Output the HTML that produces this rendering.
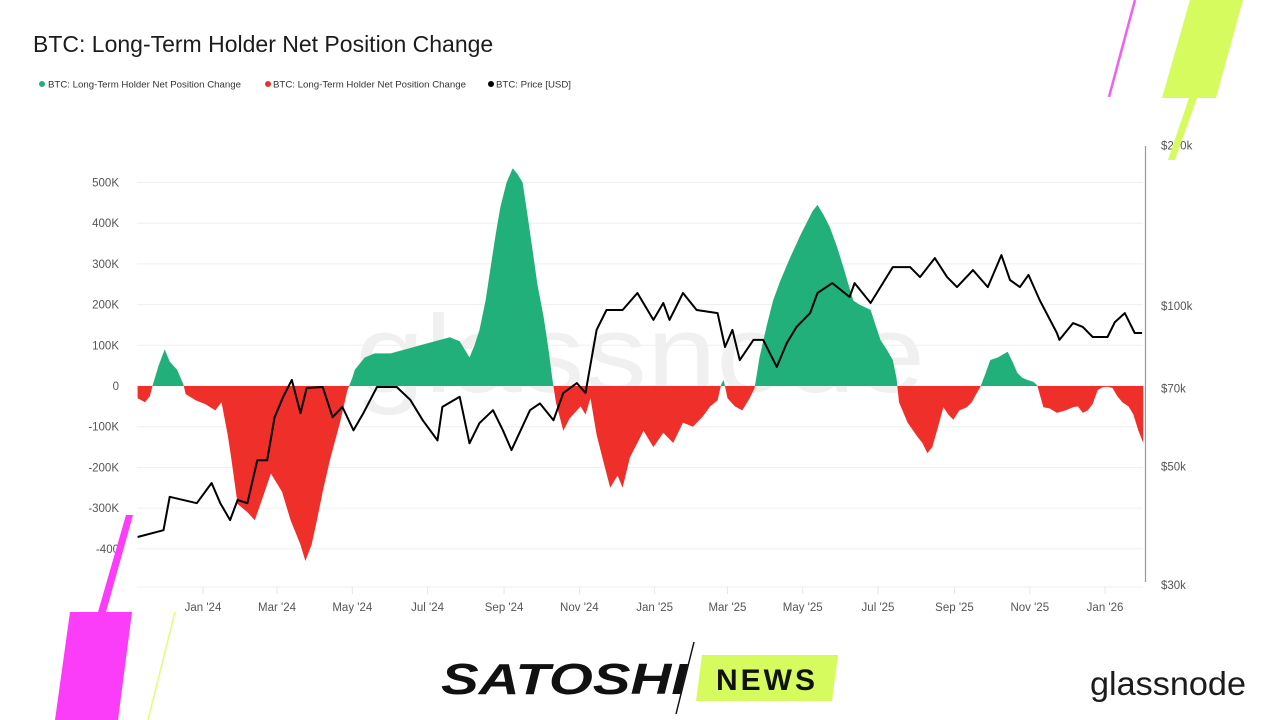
<!DOCTYPE html>
<html><head><meta charset="utf-8">
<style>
html,body{margin:0;padding:0;background:#fff;}
body{width:1280px;height:720px;overflow:hidden;position:relative;font-family:"Liberation Sans",sans-serif;}
svg{position:absolute;left:0;top:0;}
</style></head>
<body>
<svg id="chart" width="1280" height="720" viewBox="0 0 1280 720">
  <text x="355" y="392" font-size="110" fill="#f0f0f0" textLength="570" lengthAdjust="spacingAndGlyphs" font-family="Liberation Sans, sans-serif">glassnode</text>
  <g id="grid"></g>
  <g id="bars"></g>
  <g id="price"></g>
  <g id="axes"></g>

  <text x="33" y="52" font-size="23" fill="#1c1c1c">BTC: Long-Term Holder Net Position Change</text>
  <g font-size="9.6" fill="#333">
    <g><circle cx="42" cy="84" r="3" fill="#22b07a"/><text x="48" y="87.5" textLength="193" lengthAdjust="spacingAndGlyphs">BTC: Long-Term Holder Net Position Change</text></g>
    <g><circle cx="268" cy="84" r="3" fill="#ee2f2a"/><text x="273" y="87.5" textLength="193" lengthAdjust="spacingAndGlyphs">BTC: Long-Term Holder Net Position Change</text></g>
    <g><circle cx="491" cy="84" r="3" fill="#000"/><text x="496" y="87.5" textLength="75" lengthAdjust="spacingAndGlyphs">BTC: Price [USD]</text></g>
  </g>

  <!-- decorations -->
  <polygon points="1190,0 1243,0 1216,98 1162,98" fill="#d6fb5e"/>
  <polygon points="1189,98 1197,98 1175,160 1168,160" fill="#d6fb5e"/>
  <line x1="1135" y1="0" x2="1109" y2="97" stroke="#f060f0" stroke-width="2.5"/>
  <polygon points="70,612 132,612 118,720 55,720" fill="#fb3cf8"/>
  <polygon points="126,515 133,515 106,612 98,612" fill="#fb3cf8"/>
  <line x1="175" y1="612" x2="148" y2="720" stroke="#e4fb7a" stroke-width="1.5"/>

  <g>
    <text x="441" y="694" font-size="44" font-weight="bold" font-style="italic" fill="#111" textLength="246" lengthAdjust="spacingAndGlyphs">SATOSHI</text>
    <line x1="694" y1="642" x2="676" y2="714" stroke="#111" stroke-width="1.5"/>
    <polygon points="702,655 838,655 832,701 696,701" fill="#d6fb5e"/>
    <text x="767" y="690" font-size="30" font-weight="bold" fill="#111" text-anchor="middle" letter-spacing="3">NEWS</text>
  </g>
  <text x="1090" y="695" font-size="33" fill="#1c1c1c" textLength="156" lengthAdjust="spacingAndGlyphs">glassnode</text>
</svg>
<script>
// LTH net position change (thousands BTC), days since 2024-01-01
const lthDays=[-53,-47,-43,-41,-36,-31,-27,-21,-16,-14,-6,2,10,15,20,23,28,36,42,50,55,64,71,79,83,88,92,97,103,111,117,121,123,131,139,152,164,176,188,200,208,216,220,224,229,233,237,241,246,251,255,259,263,267,271,276,280,283,286,292,297,306,310,314,319,324,330,336,340,346,352,357,365,373,381,389,397,405,411,417,420,422,425,431,437,443,447,451,457,462,468,476,484,489,494,498,503,508,514,519,523,527,532,541,545,549,554,559,562,564,571,579,583,587,591,595,600,604,608,613,619,623,627,630,634,638,644,652,656,660,664,668,673,676,678,681,686,692,699,705,709,713,717,721,725,729,733,737,741,745,750,754,758,762];
const lthValues=[-30,-40,-25,0,50,90,60,40,5,-20,-35,-45,-60,-40,-120,-180,-290,-310,-330,-260,-215,-260,-330,-390,-430,-390,-335,-260,-180,-90,-10,20,40,70,80,80,90,100,110,120,110,70,100,137,210,290,370,440,500,535,520,500,420,335,250,170,90,20,-40,-110,-80,-50,-70,-30,-120,-180,-250,-220,-250,-175,-140,-110,-150,-115,-140,-90,-100,-75,-50,-35,5,15,-30,-50,-60,-30,-5,70,150,210,260,317,370,400,430,445,420,390,340,292,250,210,200,187,150,113,90,64,20,-40,-90,-125,-140,-165,-150,-108,-52,-70,-83,-60,-52,-40,-18,-2,30,64,70,84,60,32,20,15,10,2,-20,-52,-55,-66,-60,-52,-50,-66,-60,-44,-10,-3,-2,-5,-25,-40,-50,-70,-110,-140];
// BTC price ($k)
const priceDays=[-53,-32,-27,-5,7,14,22,28,36,44,52,58,65,72,79,84,97,105,113,122,130,141,157,168,178,190,194,208,216,224,235,243,250,265,273,284,292,303,310,319,327,340,352,365,373,378,389,400,417,423,429,435,446,454,465,473,481,492,498,510,524,528,541,559,573,581,593,603,611,624,636,647,654,662,669,678,692,694,705,713,721,733,739,747,755,761];
const priceValues=[36.9,38.0,43.9,42.7,46.6,42.7,39.7,43.3,42.7,51.4,51.4,61.9,67.6,72.7,63.0,70.2,70.5,61.9,64.7,58.5,63.0,70.5,70.5,66.7,61.1,56.0,64.7,67.6,55.3,60.3,63.8,58.5,53.7,63.8,65.7,61.1,68.7,71.7,68.7,90.2,98.3,98.3,105.8,94.2,101.3,94.2,105.8,98.3,97.0,83.8,90.2,79.2,86.4,86.4,76.9,85.2,91.4,97.0,105.8,110.4,104.0,110.4,101.3,118.3,118.3,113.3,123.0,113.3,108.5,116.8,108.5,124.6,111.9,108.5,114.4,102.6,89.0,86.4,92.9,91.4,87.5,87.5,93.3,97.0,89.0,89.0];
const leftTicks=[500,400,300,200,100,0,-100,-200,-300,-400];
const leftTickLabels=["500K","400K","300K","200K","100K","0","-100K","-200K","-300K","-400"];
const rightTicks=[200,100,70,50,30];
const rightTickLabels=["$200k","$100k","$70k","$50k","$30k"];
const xTickDays=[0,60,121,182,244,305,366,425,486,547,609,670,731];
const xTickLabels=["Jan '24","Mar '24","May '24","Jul '24","Sep '24","Nov '24","Jan '25","Mar '25","May '25","Jul '25","Sep '25","Nov '25","Jan '26"];

const NS="http://www.w3.org/2000/svg";
const X0=137,X1=1143;
const xs=d=>203+d*1.234;
const yL=v=>386-v*0.407;
const yR=p=>585-231.7*Math.log(p/30);
function mk(tag,attrs,parent){const e=document.createElementNS(NS,tag);for(const k in attrs)e.setAttribute(k,attrs[k]);parent.appendChild(e);return e;}

const grid=document.getElementById('grid'),axes=document.getElementById('axes');
leftTicks.forEach((v,i)=>{
  const g=mk('line',{x1:X0,x2:X1,y1:yL(v),y2:yL(v),stroke:'#efefef','stroke-width':1},grid);
  
  
  const t=mk('text',{x:119,y:yL(v)+4,'font-size':11.5,fill:'#555','text-anchor':'end'},axes);
  t.textContent=leftTickLabels[i];
  
  
});
const bl=mk('line',{x1:X0,x2:X1,y1:587,y2:587,stroke:'#efefef','stroke-width':1},grid);


rightTicks.forEach((p,i)=>{
  const t=mk('text',{x:1161,y:yR(p)+4,'font-size':11.5,fill:'#555'},axes);
  t.textContent=rightTickLabels[i];
  
  
});
const ra=mk('line',{x1:1145.5,x2:1145.5,y1:146,y2:582,stroke:'#999','stroke-width':1.2},axes);


xTickDays.forEach((d,i)=>{
  const tk=mk('line',{x1:xs(d),x2:xs(d),y1:587,y2:594,stroke:'#e6e6e6'},axes);
  
  
  const t=mk('text',{x:xs(d),y:611,'font-size':11.5,fill:'#555','text-anchor':'middle'},axes);
  t.textContent=xTickLabels[i];
  
  
});

// bars as area, split at zero
const bars=document.getElementById('bars');
const defs=mk('defs',{},bars);
const cp1=mk('clipPath',{id:'pos'},defs);mk('rect',{x:0,y:0,width:1280,height:yL(0)},cp1);
const cp2=mk('clipPath',{id:'neg'},defs);mk('rect',{x:0,y:yL(0),width:1280,height:400},cp2);
let d='M'+xs(lthDays[0])+','+yL(0);
lthDays.forEach((dy,i)=>{d+=' L'+xs(dy).toFixed(1)+','+yL(lthValues[i]).toFixed(1);});
d+=' L'+xs(lthDays[lthDays.length-1])+','+yL(0)+' Z';
const ap=mk('path',{d:d,fill:'#22b07a','clip-path':'url(#pos)'},bars);


const an=mk('path',{d:d,fill:'#ee2f2a','clip-path':'url(#neg)'},bars);



// price line
const pr=document.getElementById('price');
let pd='';
priceDays.forEach((dy,i)=>{pd+=(i?' L':'M')+xs(dy).toFixed(1)+','+yR(priceValues[i]).toFixed(1);});
const pl=mk('path',{d:pd,fill:'none',stroke:'#000','stroke-width':2,'stroke-linejoin':'round'},pr);


</script>
</body></html>
